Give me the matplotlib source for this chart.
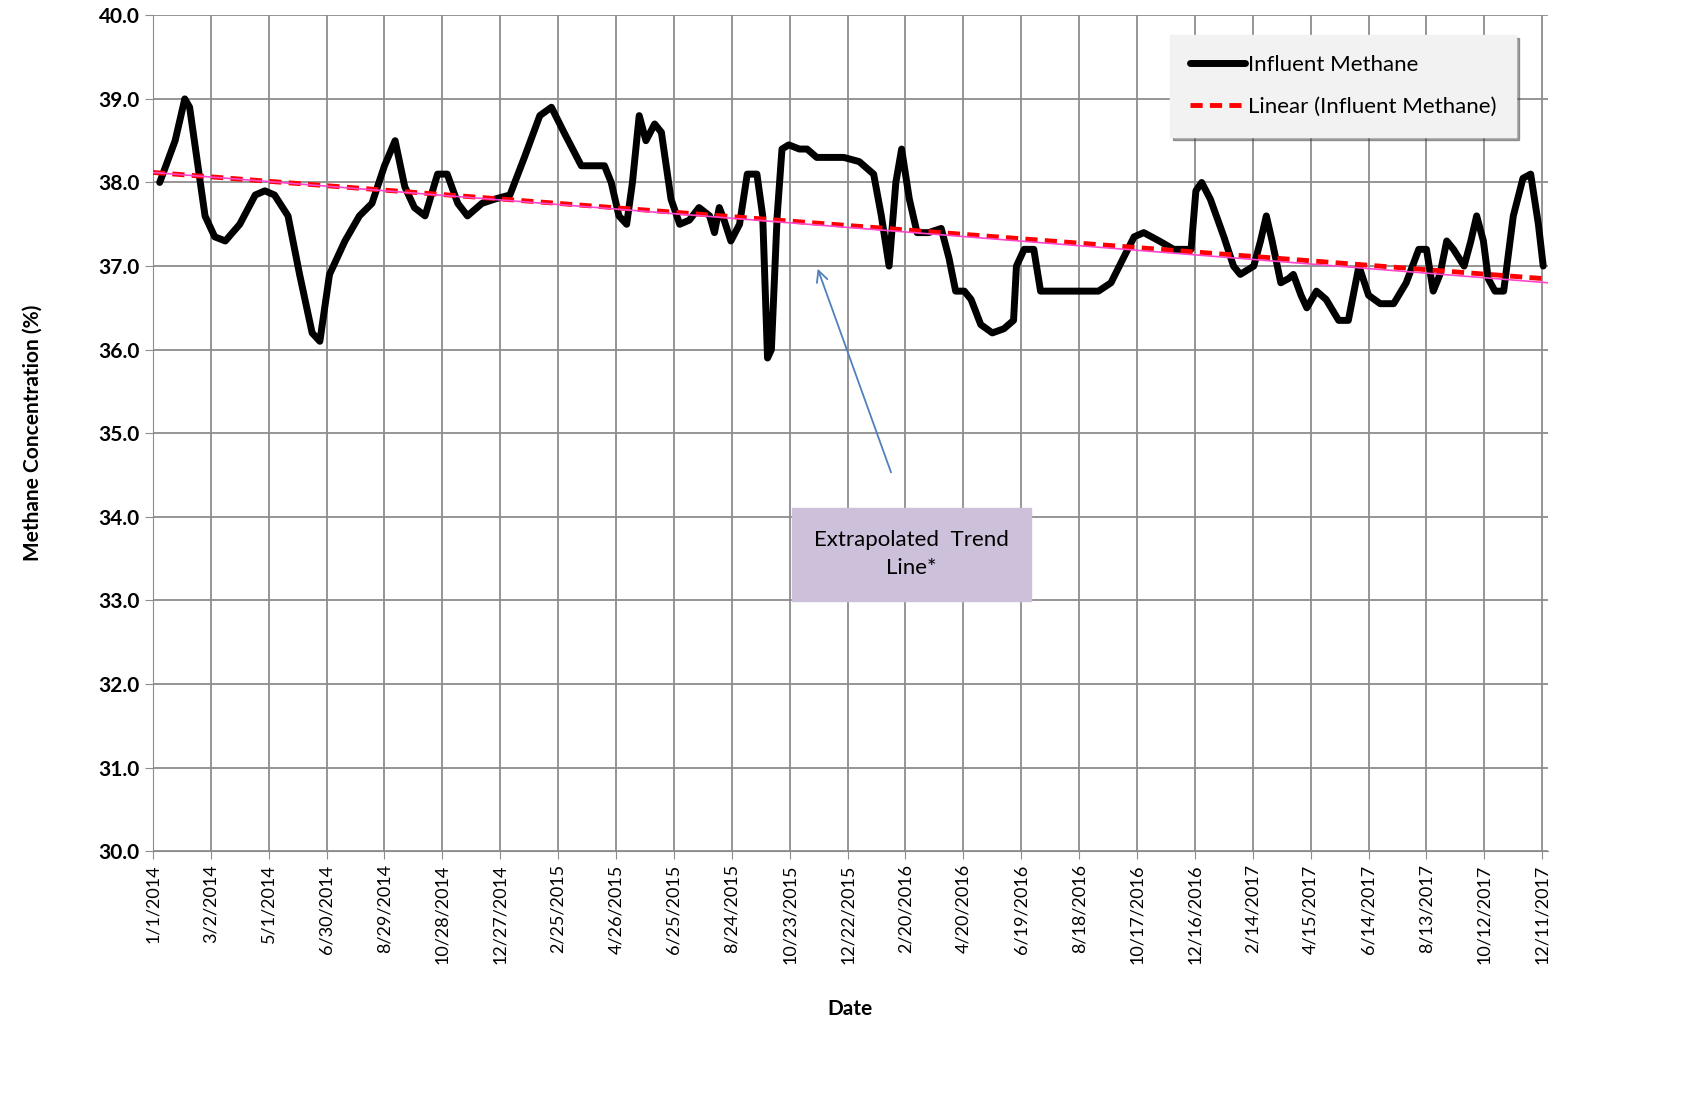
import matplotlib
matplotlib.use("Agg")
import matplotlib.pyplot as plt
import matplotlib.dates as mdates
import numpy as np
import datetime as dt

plt.rcParams['font.family'] = ['Lato', 'DejaVu Sans']

# days since 1/1/2014 and methane concentration (%)
days = [7, 23, 33, 38, 54, 64, 75, 90, 106, 116, 126, 140, 152, 165, 173, 183, 199, 214, 227, 240,
        251, 261, 271, 282, 295, 305, 316, 326, 341, 354, 370, 385, 401, 413, 426, 444, 458, 468, 475, 483,
        491, 497, 504, 511, 520, 527, 537, 546, 556, 566, 577, 582, 587, 592, 599, 608, 616, 626, 632, 637,
        641, 647, 652, 659, 670, 678, 688, 701, 716, 732, 747, 755, 763, 770, 776, 784, 792, 804, 817, 825,
        832, 841, 848, 858, 870, 882, 892, 895, 903, 913, 920, 934, 949, 965, 980, 993, 1006, 1017, 1027, 1043,
        1058, 1076, 1081, 1087, 1096, 1110, 1120, 1127, 1141, 1148, 1154, 1160, 1169, 1177, 1182, 1190, 1196, 1206, 1216, 1229,
        1239, 1250, 1260, 1272, 1286, 1299, 1312, 1320, 1327, 1334, 1341, 1348, 1359, 1366, 1372, 1379, 1384, 1391, 1400, 1410,
        1420, 1428, 1436, 1441]
methane = [38.0, 38.5, 39.0, 38.9, 37.6, 37.35, 37.3, 37.5, 37.85, 37.9, 37.85, 37.6, 36.9, 36.2, 36.1, 36.9, 37.3, 37.6, 37.75, 38.2,
           38.5, 37.95, 37.7, 37.6, 38.1, 38.1, 37.75, 37.6, 37.75, 37.8, 37.85, 38.3, 38.8, 38.9, 38.6, 38.2, 38.2, 38.2, 38.0, 37.6,
           37.5, 38.0, 38.8, 38.5, 38.7, 38.6, 37.8, 37.5, 37.55, 37.7, 37.6, 37.4, 37.7, 37.55, 37.3, 37.5, 38.1, 38.1, 37.6, 35.9,
           36.0, 37.6, 38.4, 38.45, 38.4, 38.4, 38.3, 38.3, 38.3, 38.25, 38.1, 37.6, 37.0, 38.0, 38.4, 37.8, 37.4, 37.4, 37.45, 37.1,
           36.7, 36.7, 36.6, 36.3, 36.2, 36.25, 36.35, 37.0, 37.2, 37.2, 36.7, 36.7, 36.7, 36.7, 36.7, 36.8, 37.1, 37.35, 37.4, 37.3,
           37.2, 37.2, 37.9, 38.0, 37.8, 37.35, 37.0, 36.9, 37.0, 37.3, 37.6, 37.3, 36.8, 36.85, 36.9, 36.65, 36.5, 36.7, 36.6, 36.35,
           36.35, 37.0, 36.65, 36.55, 36.55, 36.8, 37.2, 37.2, 36.7, 36.9, 37.3, 37.2, 37.0, 37.3, 37.6, 37.3, 36.85, 36.7, 36.7, 37.6,
           38.05, 38.1, 37.5, 37.0]

start = dt.date(2014, 1, 1)
dates = [start + dt.timedelta(days=d) for d in days]

# Excel linear trend endpoints
trend_days = [0, 1441]
trend_vals = [38.12, 36.85]
ext_days = [0, 1446]
ext_vals = [38.12, 36.80]

fig = plt.figure(figsize=(16.9, 10.94), dpi=100)
ax = fig.add_axes([0.0905, 0.222, 0.8255, 0.764])

ax.plot(dates, methane, color='black', lw=5, solid_joinstyle='round', solid_capstyle='round',
        label='Influent Methane', zorder=3)
ax.plot([start + dt.timedelta(days=d) for d in trend_days], trend_vals, color='#ff0000', lw=3.5,
        ls=(0, (2.5, 1.5)), label='Linear (Influent Methane)', zorder=4)
ax.plot([start + dt.timedelta(days=d) for d in ext_days], ext_vals, color='#ff44cc', lw=1.2, zorder=5)

ticks = [start + dt.timedelta(days=60 * i) for i in range(25)]
ax.set_xticks(ticks)
ax.set_xticklabels([f"{t.month}/{t.day}/{t.year}" for t in ticks], rotation=90, fontsize=13)
ax.set_xlim(start, start + dt.timedelta(days=1446))
ax.set_ylim(30, 40)
ax.set_yticks(np.arange(30, 40.1, 1))
ax.set_yticklabels([f"{v:.1f}" for v in np.arange(30, 40.1, 1)], fontsize=15, fontweight='bold')
ax.grid(True, color='#8c8c8c', lw=1.3)
ax.set_axisbelow(True)
for s in ['top', 'right']:
    ax.spines[s].set_visible(False)
ax.spines['left'].set_color('#8c8c8c')
ax.spines['bottom'].set_color('#8c8c8c')
ax.tick_params(colors='black', length=6, color='#8c8c8c')

ax.set_ylabel('Methane Concentration (%)', fontsize=15, fontweight='bold', labelpad=40)
ax.set_xlabel('Date', fontsize=15, fontweight='bold', labelpad=25)

leg = ax.legend(loc='upper right', bbox_to_anchor=(0.985, 0.99), fontsize=16, frameon=True,
                fancybox=False, shadow=True, handlelength=2.5, borderpad=0.9, labelspacing=1.0,
                handletextpad=0.1, borderaxespad=0.5)
leg.get_frame().set_facecolor('#f2f2f2')
leg.get_frame().set_edgecolor('#f2f2f2')

ax.annotate('', xy=(start + dt.timedelta(days=688), 37.0), xytext=(start + dt.timedelta(days=766), 34.5),
            arrowprops=dict(arrowstyle='->', color='#4f81bd', lw=1.3, mutation_scale=20))
ax.text(start + dt.timedelta(days=786), 33.55, 'Extrapolated  Trend\nLine*', ha='center', va='center',
        fontsize=16, linespacing=1.5,
        bbox=dict(boxstyle='square,pad=1.0', facecolor='#ccc0da', edgecolor='#ccc0da'))

fig.savefig('out.png', dpi=100)
